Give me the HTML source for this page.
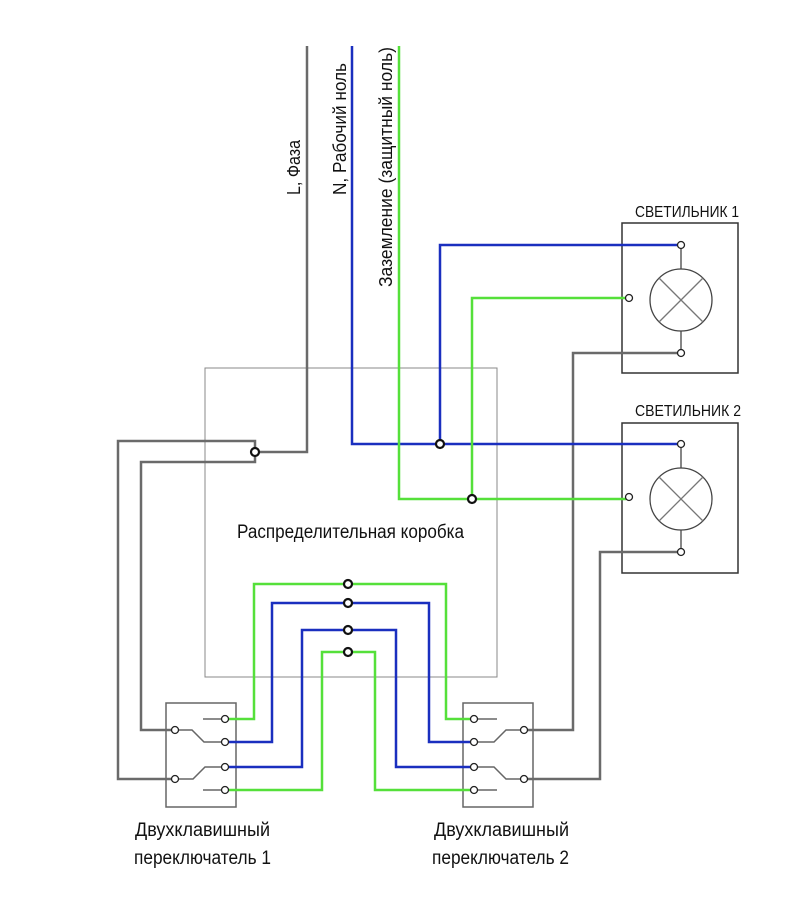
<!DOCTYPE html>
<html><head><meta charset="utf-8"><style>
html,body{margin:0;padding:0;background:#fff;}
svg{display:block;}
text{font-family:"Liberation Sans","Noto Sans CJK SC",sans-serif;fill:#111;}
</style></head><body>
<svg width="800" height="916" viewBox="0 0 800 916" xmlns="http://www.w3.org/2000/svg">
<rect width="800" height="916" fill="#fff"/>
<rect x="205" y="368" width="292" height="309" fill="none" stroke="#888" stroke-width="1"/>
<g fill="none" stroke="#333" stroke-width="1.5">
<rect x="622" y="223" width="116" height="150"/>
<rect x="622" y="423" width="116" height="150"/>
</g>
<g fill="none" stroke="#444" stroke-width="1.3">
<circle cx="681" cy="300" r="31"/>
<line x1="659" y1="278" x2="703" y2="322" stroke="#777"/><line x1="703" y1="278" x2="659" y2="322" stroke="#777"/>
<line x1="681" y1="249" x2="681" y2="269"/><line x1="681" y1="331" x2="681" y2="349"/>
<circle cx="681" cy="499" r="31"/>
<line x1="659" y1="477" x2="703" y2="521" stroke="#777"/><line x1="703" y1="477" x2="659" y2="521" stroke="#777"/>
<line x1="681" y1="448" x2="681" y2="468"/><line x1="681" y1="530" x2="681" y2="548"/>
</g>
<g fill="none" stroke="#666" stroke-width="1.5">
<rect x="166" y="703" width="70" height="104"/>
<rect x="463" y="703" width="70" height="104"/>
<path d="M203 719H222M203 790H222M178 730H192L204 742H222M178 779H193L205 767H222"/>
<path d="M477 719H497M477 790H497M521 730H506L494 742H477M521 779H506L494 767H477"/>
</g>
<g fill="none" stroke="#6a6a6a" stroke-width="2.5">
<path d="M307 46V452H258"/>
<path d="M255 448V441H118V779H172"/>
<path d="M255 456V462H141V730H172"/>
<path d="M678 353H573V730H527"/>
<path d="M678 552H600V779H527"/>
</g>
<g fill="none" stroke="#1a2fbf" stroke-width="2.5">
<path d="M352 46V444H678"/>
<path d="M440 444V245H678"/>
<path d="M228 742H272V603H429V742H471"/>
<path d="M228 767H302V630H396V767H471"/>
</g>
<g fill="none" stroke="#55e03a" stroke-width="2.5">
<path d="M399 46V499H626"/>
<path d="M472 499V298H626"/>
<path d="M228 719H254V584H446V719H471"/>
<path d="M228 790H322V652H375V790H471"/>
</g>
<g fill="#fff" stroke="#222" stroke-width="1.3">
<circle cx="681" cy="245" r="3.5"/><circle cx="629" cy="298" r="3.5"/><circle cx="681" cy="353" r="3.5"/>
<circle cx="681" cy="444" r="3.5"/><circle cx="629" cy="497" r="3.5"/><circle cx="681" cy="552" r="3.5"/>
<circle cx="225" cy="719" r="3.5"/><circle cx="225" cy="742" r="3.5"/><circle cx="225" cy="767" r="3.5"/><circle cx="225" cy="790" r="3.5"/>
<circle cx="175" cy="730" r="3.5"/><circle cx="175" cy="779" r="3.5"/>
<circle cx="474" cy="719" r="3.5"/><circle cx="474" cy="742" r="3.5"/><circle cx="474" cy="767" r="3.5"/><circle cx="474" cy="790" r="3.5"/>
<circle cx="524" cy="730" r="3.5"/><circle cx="524" cy="779" r="3.5"/>
</g>
<g fill="#fff" stroke="#111" stroke-width="2.2">
<circle cx="255" cy="452" r="4"/><circle cx="440" cy="444" r="4"/><circle cx="472" cy="499" r="4"/>
<circle cx="348" cy="584" r="4"/><circle cx="348" cy="603" r="4"/><circle cx="348" cy="630" r="4"/><circle cx="348" cy="652" r="4"/>
</g>
<text transform="translate(300,195) rotate(-90)" font-size="18" textLength="55" lengthAdjust="spacingAndGlyphs">L, Фаза</text>
<text transform="translate(346,195) rotate(-90)" font-size="18" textLength="132" lengthAdjust="spacingAndGlyphs">N, Рабочий ноль</text>
<text transform="translate(392,287) rotate(-90)" font-size="18" textLength="240" lengthAdjust="spacingAndGlyphs">Заземление (защитный ноль)</text>
<text x="635" y="217" font-size="16" textLength="104" lengthAdjust="spacingAndGlyphs">СВЕТИЛЬНИК 1</text>
<text x="635" y="416" font-size="16" textLength="106" lengthAdjust="spacingAndGlyphs">СВЕТИЛЬНИК 2</text>
<text x="237" y="538" font-size="19" textLength="227" lengthAdjust="spacingAndGlyphs">Распределительная коробка</text>
<text x="135" y="836" font-size="19" textLength="135" lengthAdjust="spacingAndGlyphs">Двухклавишный</text>
<text x="134" y="864" font-size="19" textLength="137" lengthAdjust="spacingAndGlyphs">переключатель 1</text>
<text x="434" y="836" font-size="19" textLength="135" lengthAdjust="spacingAndGlyphs">Двухклавишный</text>
<text x="432" y="864" font-size="19" textLength="137" lengthAdjust="spacingAndGlyphs">переключатель 2</text>
</svg>
</body></html>
